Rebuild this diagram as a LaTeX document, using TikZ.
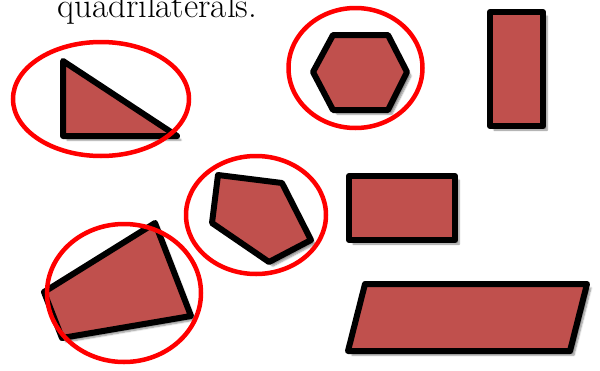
\documentclass[tikz,border=0pt]{standalone}
\usetikzlibrary{shadows.blur}
\definecolor{shapefill}{HTML}{C0504D}
\definecolor{ringred}{HTML}{FF0000}
\begin{document}
\begin{tikzpicture}[x=1pt,y=-1pt,
  shapestyle/.style={draw=black,line width=6pt,line join=round,fill=shapefill,
    blur shadow={shadow xshift=4pt,shadow yshift=-4pt,shadow blur steps=6,shadow opacity=45}},
  ringstyle/.style={draw=ringred,line width=4.5pt}]
\useasboundingbox (0,0) rectangle (600,370);
\clip (0,0) rectangle (600,370);
\node[anchor=base west,inner sep=0pt,font=\fontsize{35}{42}\selectfont] (title) at (57,17) {quadrilaterals.};
% shapes
\draw[shapestyle] (63,61) -- (63,136) -- (177,136) -- cycle;
\draw[shapestyle] (333,35) -- (388,35) -- (407,72) -- (388,110) -- (333,110) -- (313,72) -- cycle;
\draw[shapestyle] (490,12) rectangle (543,126);
\draw[shapestyle] (218,175) -- (282,183) -- (311,240) -- (269,262) -- (212,223) -- cycle;
\draw[shapestyle] (349,176) rectangle (455,240);
\draw[shapestyle] (44,292) -- (155,223) -- (191,316) -- (62,338) -- cycle;
\draw[shapestyle] (365,284) -- (587,284) -- (570,351) -- (348,351) -- cycle;
% rings
\draw[ringstyle] (101,99) ellipse [x radius=88, y radius=57];
\draw[ringstyle] (355.5,68) ellipse [x radius=67, y radius=60];
\draw[ringstyle] (256,215) ellipse [x radius=70, y radius=59];
\draw[ringstyle] (124,293) ellipse [x radius=77, y radius=69];
\end{tikzpicture}
\end{document}
